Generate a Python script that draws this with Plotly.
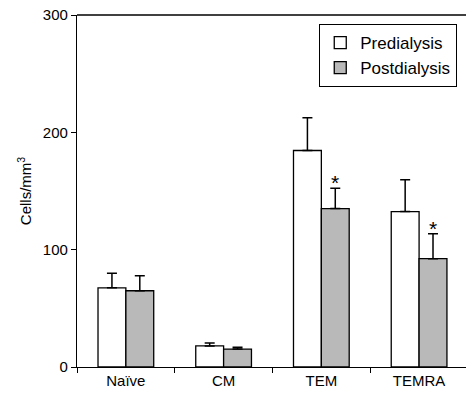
import plotly.graph_objects as go

categories = ["Naïve", "CM", "TEM", "TEMRA"]
pre_values = [67.5, 18, 184.5, 132.5]
pre_err = [12.5, 2.5, 28, 27]
post_values = [65, 15.3, 135, 92.3]
post_err = [12.8, 1.5, 17.3, 21.3]
significant = [False, False, True, True]

fig = go.Figure()
fig.add_trace(go.Bar(
    name="Predialysis", x=categories, y=pre_values,
    marker=dict(color="white", line=dict(color="black", width=1.3)),
    error_y=dict(type="data", symmetric=False, array=pre_err,
                 arrayminus=[0] * 4, color="black", thickness=1.5, width=5),
))
fig.add_trace(go.Bar(
    name="Postdialysis", x=categories, y=post_values,
    marker=dict(color="#b9b9b9", line=dict(color="black", width=1.3)),
    error_y=dict(type="data", symmetric=False, array=post_err,
                 arrayminus=[0] * 4, color="black", thickness=1.5, width=5),
))

bargap = 0.43
offset = (1 - bargap) / 4
for i, sig in enumerate(significant):
    if sig:
        fig.add_annotation(x=i + offset, y=post_values[i] + post_err[i],
                           text="*", showarrow=False, yanchor="bottom",
                           yshift=-8, font=dict(size=21, color="black"))

fig.add_shape(type="line", xref="paper", yref="paper", x0=0, x1=1, y0=1, y1=1,
              line=dict(color="black", width=1.3))

fig.update_layout(
    width=466, height=396,
    margin=dict(l=77, r=0, t=15, b=29, pad=0, autoexpand=False),
    paper_bgcolor="white", plot_bgcolor="white",
    font=dict(family="Liberation Sans, Arial, sans-serif", size=15, color="black"),
    barmode="group", bargap=bargap, bargroupgap=0,
    showlegend=True,
    legend=dict(x=0.977, y=0.975, xanchor="right", yanchor="top",
                bordercolor="black", borderwidth=1.2, bgcolor="white",
                font=dict(size=17), tracegroupgap=0, itemwidth=30),
)
fig.update_xaxes(type="category", range=[-0.5, 3.48], showline=True,
                 linecolor="black", linewidth=1.3, ticks="outside",
                 tickson="boundaries", ticklen=5, tickcolor="black",
                 showgrid=False, zeroline=False, tickfont=dict(size=15),
                 automargin=False)
fig.update_yaxes(range=[0, 300], tickvals=[0, 100, 200, 300], showline=True,
                 linecolor="black", linewidth=1.3, ticks="outside", ticklen=5,
                 tickcolor="black", showgrid=False, zeroline=False,
                 tickfont=dict(size=15), automargin=False,
                 title=dict(text="Cells/mm<sup>3</sup>", font=dict(size=15),
                            standoff=7))

fig.write_html("out.html",
               config={"displayModeBar": False},
               post_script="document.body.style.margin='0';")
